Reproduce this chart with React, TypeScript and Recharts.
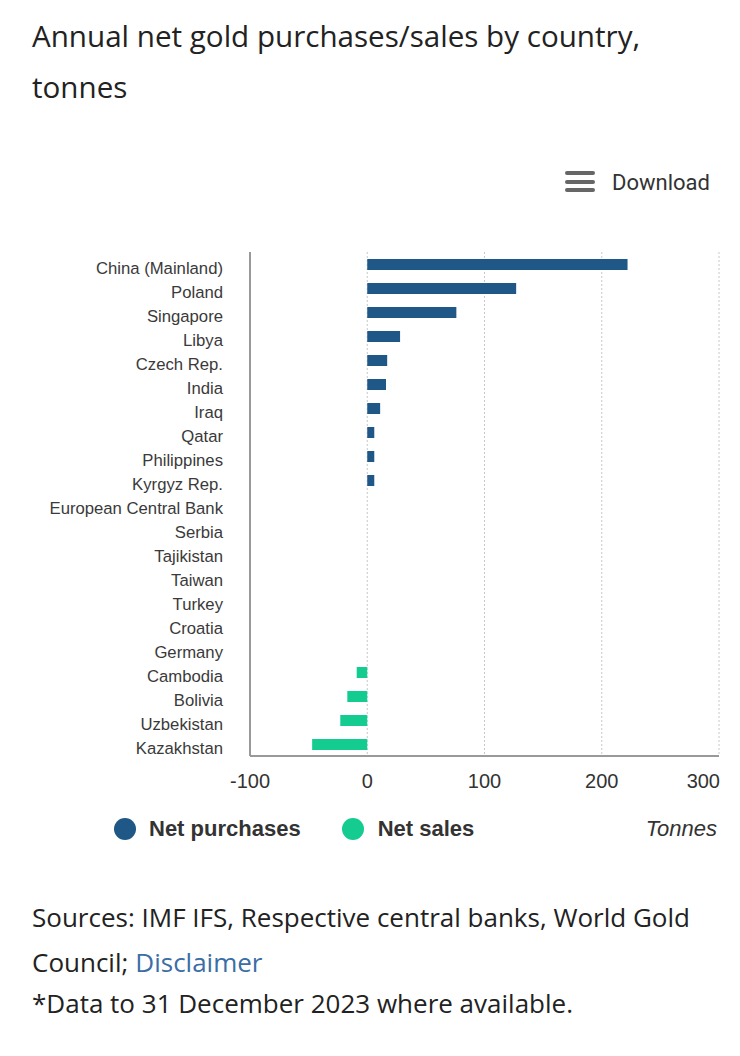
import React from "react";
import { BarChart, Bar, XAxis, YAxis, CartesianGrid } from "recharts";

const countries = [
  "China (Mainland)",
  "Poland",
  "Singapore",
  "Libya",
  "Czech Rep.",
  "India",
  "Iraq",
  "Qatar",
  "Philippines",
  "Kyrgyz Rep.",
  "European Central Bank",
  "Serbia",
  "Tajikistan",
  "Taiwan",
  "Turkey",
  "Croatia",
  "Germany",
  "Cambodia",
  "Bolivia",
  "Uzbekistan",
  "Kazakhstan",
];

const netPurchases = [222, 127, 76, 28, 17, 16, 11, 6, 6, 6, 0, 0, 0, 0, 0, 0, 0, 0, 0, 0, 0];
const netSales = [0, 0, 0, 0, 0, 0, 0, 0, 0, 0, 0, 0, 0, 0, 0, 0, 0, -9, -17, -23, -47];

const xTicks = [-100, 0, 100, 200, 300];

const BLUE = "#1f5786";
const GREEN = "#14cc90";

const rows = countries.map((c, i) => ({
  country: c,
  purchases: netPurchases[i],
  sales: netSales[i],
}));

const chartFont = '"Liberation Sans", Arial, sans-serif';
const textFont = '"Open Sans", "Noto Sans", sans-serif';

function CountryTick(props: any) {
  const { x, y, payload } = props;
  return (
    <text x={x} y={y} dy={10} textAnchor="end" fontSize={16.7} fill="#3a3a3a" fontFamily={chartFont}>
      {payload.value}
    </text>
  );
}

function ValueTick(props: any) {
  const { x, y, payload } = props;
  const last = payload.value === xTicks[xTicks.length - 1];
  return (
    <text
      x={last ? x + 1 : x}
      y={y}
      dy={24}
      textAnchor={last ? "end" : "middle"}
      fontSize={20}
      fill="#333"
      fontFamily={chartFont}
    >
      {payload.value}
    </text>
  );
}

export default function App() {
  return (
    <div style={{ position: "relative", width: 740, height: 1056, margin: -8, background: "#fff" }}>
      <div
        style={{
          position: "absolute",
          left: 32,
          top: 10,
          width: 700,
          fontFamily: textFont,
          fontSize: 29.6,
          lineHeight: "51px",
          color: "#222",
        }}
      >
        Annual net gold purchases/sales by country,
        <br />
        tonnes
      </div>

      <div style={{ position: "absolute", left: 565, top: 171, width: 30 }}>
        {[0, 1, 2].map((k) => (
          <div
            key={k}
            style={{ height: 4, borderRadius: 2, background: "#666", marginBottom: k < 2 ? 4.5 : 0 }}
          />
        ))}
      </div>
      <div
        style={{
          position: "absolute",
          left: 612,
          top: 170,
          fontFamily: '"Roboto", "Noto Sans", sans-serif',
          fontSize: 22,
          color: "#333",
        }}
      >
        Download
      </div>

      <div style={{ position: "absolute", left: 0, top: 240 }}>
        <BarChart
          width={740}
          height={560}
          data={rows}
          layout="vertical"
          margin={{ top: 12, right: 21, bottom: 0, left: 0 }}
          barSize={11}
        >
          <CartesianGrid
            horizontal={false}
            vertical
            stroke="#c8c8c8"
            strokeDasharray="2 2"
          />
          <XAxis
            type="number"
            domain={[-100, 300]}
            ticks={xTicks}
            tick={<ValueTick />}
            tickLine={false}
            axisLine={{ stroke: "#999", strokeWidth: 2 }}
            height={44}
            interval={0}
          />
          <YAxis
            type="category"
            dataKey="country"
            width={250}
            tick={<CountryTick />}
            tickLine={false}
            tickSize={0}
            tickMargin={27}
            axisLine={{ stroke: "#999", strokeWidth: 2 }}
            interval={0}
          />
          <Bar dataKey="purchases" stackId="a" fill={BLUE} isAnimationActive={false} />
          <Bar dataKey="sales" stackId="a" fill={GREEN} isAnimationActive={false} />
        </BarChart>
      </div>

      <div
        style={{
          position: "absolute",
          left: 114,
          top: 814,
          width: 603,
          height: 30,
          display: "flex",
          alignItems: "center",
          fontFamily: chartFont,
          fontSize: 22,
          color: "#333",
        }}
      >
        <span style={{ width: 22, height: 22, borderRadius: "50%", background: BLUE, display: "inline-block" }} />
        <span style={{ fontWeight: "bold", marginLeft: 13 }}>Net purchases</span>
        <span
          style={{
            width: 22,
            height: 22,
            borderRadius: "50%",
            background: GREEN,
            display: "inline-block",
            marginLeft: 41,
          }}
        />
        <span style={{ fontWeight: "bold", marginLeft: 14 }}>Net sales</span>
        <span style={{ marginLeft: "auto", fontStyle: "italic", fontSize: 22 }}>Tonnes</span>
      </div>

      <div
        style={{
          position: "absolute",
          left: 32,
          top: 895,
          width: 700,
          fontFamily: textFont,
          fontSize: 26,
          lineHeight: "45px",
          color: "#222",
        }}
      >
        <div>Sources: IMF IFS, Respective central banks, World Gold</div>
        <div>
          <span>Council;</span>
          <span style={{ color: "#3a6ea5", marginLeft: 7 }}>Disclaimer</span>
        </div>
      </div>
      <div
        style={{
          position: "absolute",
          left: 32,
          top: 986,
          width: 700,
          fontFamily: textFont,
          fontSize: 26,
          lineHeight: "34px",
          color: "#222",
        }}
      >
        *Data to 31 December 2023 where available.
      </div>
    </div>
  );
}
